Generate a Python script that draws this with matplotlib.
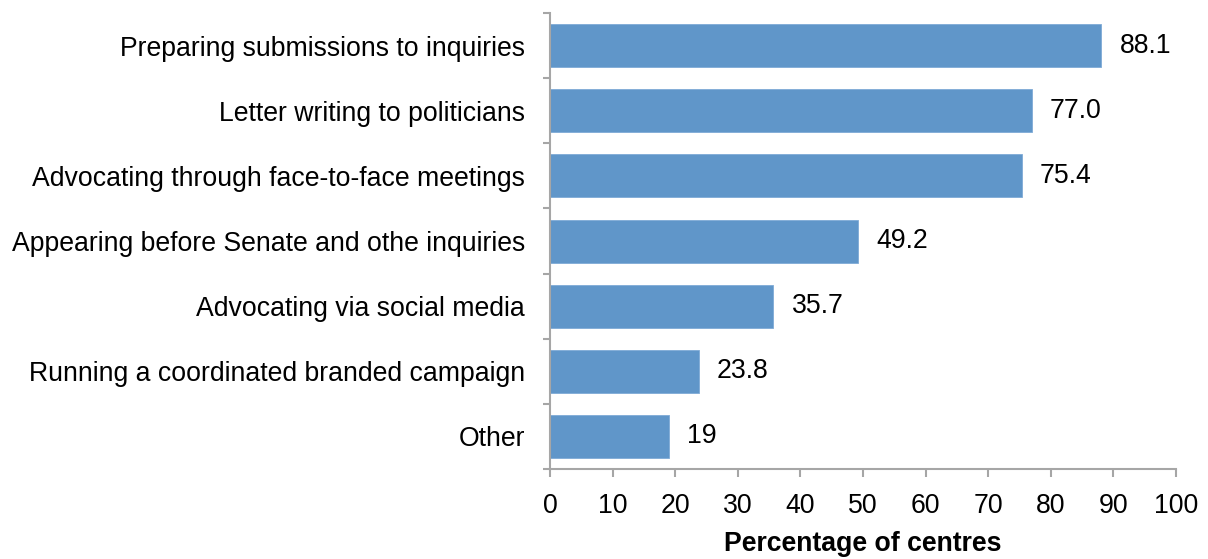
import numpy as np
import matplotlib.pyplot as plt
from matplotlib.ticker import FixedLocator

plt.rcParams['font.family'] = ['Liberation Sans', 'DejaVu Sans']

categories = [
    "Preparing submissions to inquiries",
    "Letter writing to politicians",
    "Advocating through face-to-face meetings",
    "Appearing before Senate and othe inquiries",
    "Advocating via social media",
    "Running a coordinated branded campaign",
    "Other",
]
values = [88.1, 77.0, 75.4, 49.2, 35.7, 23.8, 19]
value_labels = ["88.1", "77.0", "75.4", "49.2", "35.7", "23.8", "19"]

bar_color = '#6096C9'
axis_color = '#A6A6A6'
fs = 19.2

fig = plt.figure(figsize=(12.08, 5.59), dpi=100)
ax = fig.add_axes([0.4553, 0.161, 0.5182, 0.8157])

n = len(categories)
y = np.arange(n)
ax.barh(y, values, height=0.66, color=bar_color, edgecolor='#7FAAD6', linewidth=0.6)
ax.set_ylim(n - 0.5, -0.5)
ax.set_xlim(0, 100)

for yi, v, lab in zip(y, values, value_labels):
    ax.annotate(lab, (v, yi), xytext=(13, 0), textcoords='offset points',
                va='center', ha='left', fontsize=fs, color='black')

# category boundaries get the tick marks, centres get the labels
ax.yaxis.set_major_locator(FixedLocator(np.arange(n + 1) - 0.5))
ax.set_yticklabels([])
ax.yaxis.set_minor_locator(FixedLocator(y))
ax.set_yticklabels(categories, minor=True)
ax.tick_params(axis='y', which='major', length=5, width=1.5, color=axis_color, direction='out')
ax.tick_params(axis='y', which='minor', length=0, pad=18, labelsize=fs)

ax.set_xticks(np.arange(0, 101, 10))
ax.tick_params(axis='x', length=6, width=1.5, color=axis_color, direction='out',
               pad=11, labelsize=fs)

for side in ['top', 'right']:
    ax.spines[side].set_visible(False)
for side in ['left', 'bottom']:
    ax.spines[side].set_color(axis_color)
    ax.spines[side].set_linewidth(1.5)

ax.set_xlabel('Percentage of centres', fontsize=fs, fontweight='bold', labelpad=9)

fig.savefig('out.png', dpi=100)
